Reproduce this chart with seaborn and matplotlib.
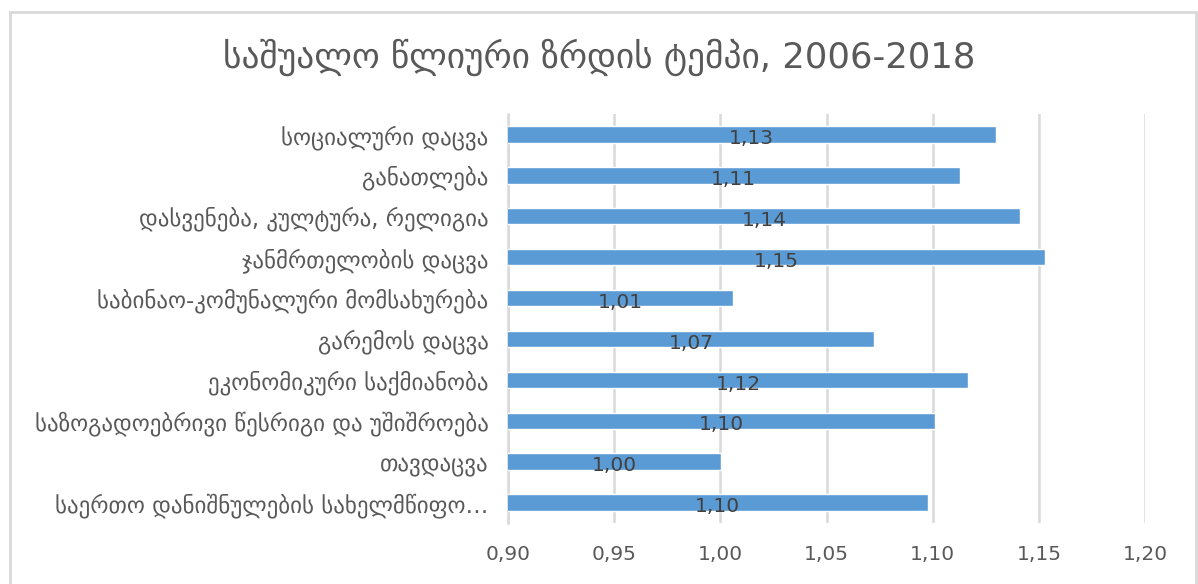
import matplotlib
matplotlib.use("Agg")
import matplotlib.pyplot as plt
from matplotlib.patches import Rectangle
from matplotlib.ticker import FixedLocator, FuncFormatter
import seaborn as sns
import pandas as pd

# Spending categories and their average annual growth rates (2006-2018)
categories = [
    "სოციალური დაცვა",
    "განათლება",
    "დასვენება, კულტურა, რელიგია",
    "ჯანმრთელობის დაცვა",
    "საბინაო-კომუნალური მომსახურება",
    "გარემოს დაცვა",
    "ეკონომიკური საქმიანობა",
    "საზოგადოებრივი წესრიგი და უშიშროება",
    "თავდაცვა",
    "საერთო დანიშნულების სახელმწიფო…",
]
growth = [1.1296, 1.1127, 1.1412, 1.1531, 1.0058, 1.0723, 1.1168, 1.1012, 1.0004, 1.0976]
x_ticks = [0.90, 0.95, 1.00, 1.05, 1.10, 1.15, 1.20]
title = "საშუალო წლიური ზრდის ტემპი, 2006-2018"

df = pd.DataFrame({"category": categories, "growth": growth})

sns.set_theme(style="white")
plt.rcParams["font.family"] = ["DejaVu Sans"]

text_gray = "#595959"
bar_blue = "#5B9BD5"
grid_gray = "#D9D9D9"

fig = plt.figure(figsize=(11.98, 5.84), dpi=100)
fig.patch.set_facecolor("white")

# Chart-area frame
fig.patches.append(Rectangle((10 / 1198, -0.01), (1196 - 10) / 1198, 1.01 - 12 / 584,
                             transform=fig.transFigure, fill=False,
                             edgecolor=grid_gray, linewidth=2.0, zorder=0))

ax = fig.add_axes([508 / 1198, 1 - 523 / 584, (1145 - 508) / 1198, (523 - 114) / 584])

sns.barplot(data=df, x="growth", y="category", orient="h", color=bar_blue,
            saturation=1, width=0.40, ax=ax, zorder=3)

x0 = x_ticks[0]
ax.set_xlim(x_ticks[0], x_ticks[-1])
ax.set_ylim(len(categories) - 0.5, -0.5)

ax.xaxis.set_major_locator(FixedLocator(x_ticks))
ax.xaxis.set_major_formatter(FuncFormatter(lambda v, p: f"{v:.2f}".replace(".", ",")))
ax.grid(axis="x", color=grid_gray, linewidth=1.8, zorder=0)
ax.set_axisbelow(True)

for side in ["top", "right", "bottom"]:
    ax.spines[side].set_visible(False)
ax.spines["left"].set_color(grid_gray)
ax.spines["left"].set_linewidth(1.8)

ax.tick_params(axis="x", length=0, pad=16, labelsize=14.5, labelcolor=text_gray)
ax.tick_params(axis="y", length=0, pad=14, labelsize=16.5, labelcolor=text_gray)
ax.set_xlabel("")
ax.set_ylabel("")

# Value labels centred on the visible part of each bar
for i, v in enumerate(growth):
    ax.annotate(f"{v:.2f}".replace(".", ","), xy=((x0 + v) / 2, i),
                xytext=(0, -3), textcoords="offset points",
                ha="center", va="center", fontsize=14.5, color="#404040", zorder=4)

fig.text(0.5, 1 - 57 / 584, title, ha="center", va="center",
         fontsize=25.5, color=text_gray)

fig.savefig("out.png", dpi=100, facecolor="white")
